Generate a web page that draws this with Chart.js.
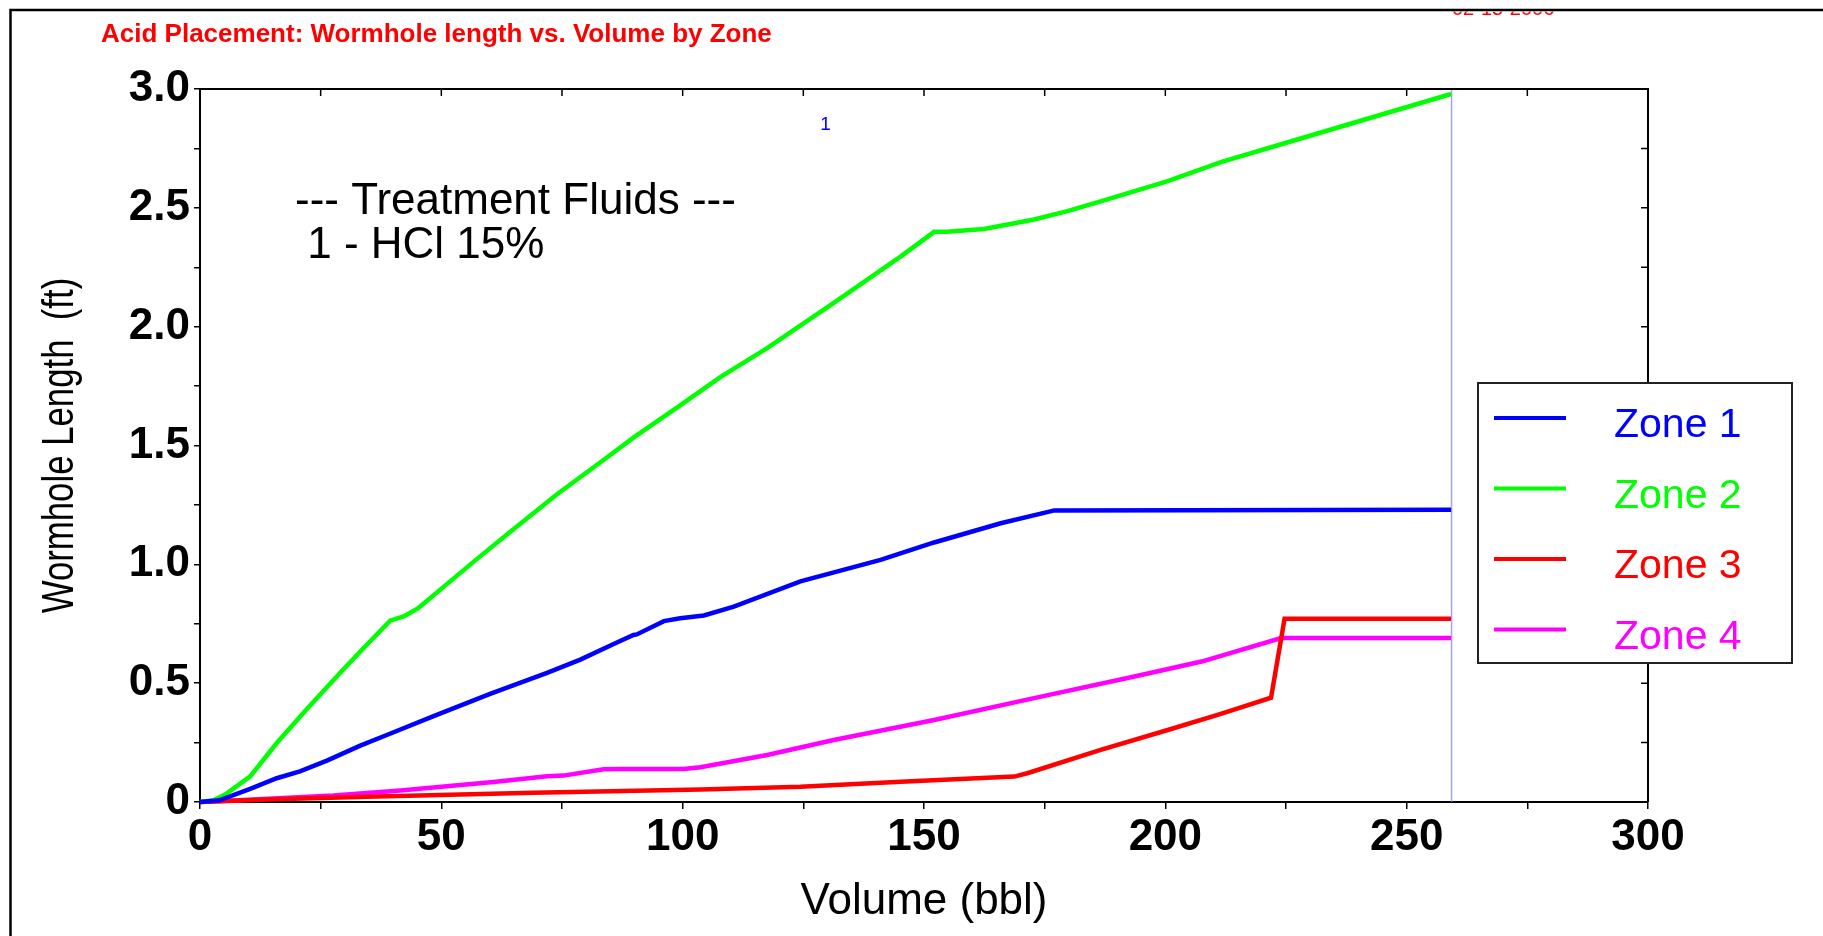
<!DOCTYPE html>
<html>
<head>
<meta charset="utf-8">
<title>Acid Placement: Wormhole length vs. Volume by Zone</title>
<script src="https://cdn.jsdelivr.net/npm/chart.js@4.4.1/dist/chart.umd.min.js"></script>
<style>
  html, body { margin: 0; padding: 0; background: #fff; }
  canvas { display: block; }
</style>
</head>
<body>
<canvas id="grafico" width="1823" height="936"></canvas>
<script>
// Datos: volumen (bbl) y longitud de wormhole (ft) por zona
const volZona1 = [0, 4, 10.4, 15.9, 20.7, 26.3, 33.2, 38.7, 48.4, 60.1, 71.9, 78.8, 85.7, 89.8, 90.5, 96.1, 99.5, 104.4, 110.6, 124.4, 141, 152.1, 165.9, 177, 259.2];
const lenZona1 = [0, 0.007, 0.055, 0.1, 0.129, 0.174, 0.237, 0.282, 0.361, 0.455, 0.543, 0.599, 0.665, 0.703, 0.705, 0.761, 0.773, 0.785, 0.822, 0.928, 1.019, 1.092, 1.173, 1.227, 1.23];

const volZona2 = [0, 2.8, 5.2, 10.4, 15.9, 22.1, 29, 33.9, 39.4, 42.3, 45.3, 50.4, 57.4, 64.3, 73.9, 83.6, 89.8, 98.8, 107.8, 117.5, 131.3, 145.2, 152.1, 154.8, 162.4, 172.8, 179.7, 186.6, 200.5, 211.5, 225.4, 259.2];
const lenZona2 = [0, 0.007, 0.031, 0.108, 0.248, 0.39, 0.543, 0.648, 0.763, 0.782, 0.817, 0.904, 1.023, 1.137, 1.294, 1.439, 1.533, 1.659, 1.788, 1.91, 2.1, 2.296, 2.399, 2.399, 2.411, 2.451, 2.486, 2.527, 2.612, 2.692, 2.776, 2.979];

const volZona3 = [0, 13.8, 34.6, 69.1, 103.7, 124.4, 145.2, 168.7, 171.4, 186.6, 200.5, 211.5, 221.9, 224.7, 259.2];
const lenZona3 = [0, 0.01, 0.022, 0.039, 0.053, 0.064, 0.085, 0.107, 0.121, 0.219, 0.303, 0.371, 0.439, 0.771, 0.771];

const volZona4 = [0, 6.9, 27.6, 41.5, 60.8, 71.9, 75.3, 83.6, 87.1, 100.2, 103.7, 117.5, 131.3, 152.1, 172.8, 193.6, 207.5, 224, 259.2];
const lenZona4 = [0, 0.006, 0.027, 0.048, 0.084, 0.108, 0.111, 0.138, 0.139, 0.139, 0.146, 0.198, 0.261, 0.345, 0.437, 0.528, 0.591, 0.69, 0.69];

const zonas = ['Zone 1', 'Zone 2', 'Zone 3', 'Zone 4'];
const coloresZonas = ['#0000ff', '#00ff00', '#ff0000', '#ff00ff'];

// Fin del bombeo (línea vertical azul clara)
const volumenFinal = 259.3;

// Etiquetas de los ejes
const xEtiquetas = ['0', '50', '100', '150', '200', '250', '300'];
const yEtiquetas = ['0', '0.5', '1.0', '1.5', '2.0', '2.5', '3.0'];

const FUENTE = "'Liberation Sans', Arial, sans-serif";

function puntos(vols, lens) {
    return vols.map((v, i) => ({ x: v, y: lens[i] }));
}

const datasets = [
    [volZona1, lenZona1],
    [volZona2, lenZona2],
    [volZona3, lenZona3],
    [volZona4, lenZona4]
].map(([vols, lens], i) => ({
    label: zonas[i],
    data: puntos(vols, lens),
    borderColor: coloresZonas[i],
    borderWidth: 4.5,
    pointRadius: 0,
    tension: 0,
    clip: 4
}));

datasets.push({
    label: 'fin',
    data: [{ x: volumenFinal, y: 0 }, { x: volumenFinal, y: 3 }],
    borderColor: 'rgba(130, 130, 255, 0.75)',
    borderWidth: 1.5,
    pointRadius: 0,
    tension: 0
});

// Marco, textos, título del eje y (condensado) y leyenda
const decoraciones = {
    id: 'decoraciones',
    afterDraw(chart) {
        const { ctx, chartArea: ca, scales: { x, y } } = chart;
        ctx.save();

        // borde superior y derecho con marcas hacia dentro
        ctx.strokeStyle = '#000';
        ctx.lineWidth = 2;
        ctx.beginPath();
        ctx.moveTo(ca.left, ca.top);
        ctx.lineTo(ca.right, ca.top);
        ctx.lineTo(ca.right, ca.bottom);
        ctx.stroke();
        ctx.lineWidth = 1.5;
        ctx.beginPath();
        x.ticks.forEach(t => {
            const px = x.getPixelForValue(t.value);
            ctx.moveTo(px, ca.top);
            ctx.lineTo(px, ca.top + 7);
        });
        y.ticks.forEach(t => {
            const py = y.getPixelForValue(t.value);
            ctx.moveTo(ca.right, py);
            ctx.lineTo(ca.right - 7, py);
        });
        ctx.stroke();

        // marco exterior
        ctx.lineWidth = 2.5;
        ctx.beginPath();
        ctx.moveTo(10.5, 936);
        ctx.lineTo(10.5, 10);
        ctx.lineTo(1823, 10);
        ctx.stroke();

        // título
        ctx.fillStyle = '#ff0000';
        ctx.font = 'bold 26px ' + FUENTE;
        ctx.textAlign = 'left';
        ctx.textBaseline = 'alphabetic';
        ctx.fillText('Acid Placement: Wormhole length vs. Volume by Zone', 101, 42);

        // fecha cortada por el marco
        ctx.save();
        ctx.beginPath();
        ctx.rect(1400, 11.5, 200, 10);
        ctx.clip();
        ctx.font = '20px ' + FUENTE;
        ctx.fillText('02-15-2006', 1452, 14.5);
        ctx.restore();

        // marcador de fluido
        ctx.fillStyle = '#0000ff';
        ctx.font = '19px ' + FUENTE;
        ctx.textAlign = 'center';
        ctx.fillText('1', x.getPixelForValue(129.6), y.getPixelForValue(2.826));

        // texto de fluidos de tratamiento
        ctx.fillStyle = '#000';
        ctx.font = '44px ' + FUENTE;
        ctx.textAlign = 'left';
        ctx.fillText('--- Treatment Fluids ---', 295, 214);
        ctx.fillText(' 1 - HCl 15%', 295, 258);

        // título del eje y
        ctx.save();
        ctx.translate(61, (ca.top + ca.bottom) / 2);
        ctx.rotate(-Math.PI / 2);
        ctx.scale(0.79, 1);
        ctx.textAlign = 'center';
        ctx.textBaseline = 'middle';
        ctx.fillText('Wormhole Length  (ft)', 0, 0);
        ctx.restore();

        // leyenda
        const caja = { left: 1478, top: 383, right: 1792, bottom: 663 };
        ctx.fillStyle = '#fff';
        ctx.fillRect(caja.left, caja.top, caja.right - caja.left, caja.bottom - caja.top);
        ctx.strokeStyle = '#222';
        ctx.lineWidth = 2;
        ctx.strokeRect(caja.left, caja.top, caja.right - caja.left, caja.bottom - caja.top);
        ctx.font = '41px ' + FUENTE;
        ctx.textBaseline = 'alphabetic';
        zonas.forEach((nombre, i) => {
            const ly = 418 + i * 70.5;
            ctx.strokeStyle = coloresZonas[i];
            ctx.lineWidth = 4;
            ctx.beginPath();
            ctx.moveTo(1494, ly);
            ctx.lineTo(1566, ly);
            ctx.stroke();
            ctx.fillStyle = coloresZonas[i];
            ctx.fillText(nombre, 1614, ly + 19);
        });

        ctx.restore();
    }
};

const grafico = new Chart(document.getElementById('grafico').getContext('2d'), {
    type: 'line',
    data: { datasets: datasets },
    options: {
        responsive: false,
        animation: false,
        layout: { padding: { top: 89, right: 175, left: 0, bottom: 0 } },
        plugins: {
            legend: { display: false },
            title: { display: false },
            tooltip: { enabled: false }
        },
        scales: {
            x: {
                type: 'linear',
                min: 0,
                max: 300,
                afterFit: scale => { scale.height = 134; },
                ticks: {
                    stepSize: 25,
                    autoSkip: false,
                    maxRotation: 0,
                    padding: 2,
                    color: '#000',
                    font: { family: FUENTE, size: 44, weight: 'bold' },
                    callback: v => (v % 50 === 0 ? xEtiquetas[v / 50] : '')
                },
                grid: { drawOnChartArea: false, tickLength: 7, color: '#000', lineWidth: 1.5 },
                border: { color: '#000', width: 2 },
                title: {
                    display: true,
                    text: 'Volume (bbl)',
                    color: '#000',
                    font: { family: FUENTE, size: 44 },
                    padding: { top: 0, bottom: 8 }
                }
            },
            y: {
                min: 0,
                max: 3,
                afterFit: scale => { scale.width = 200; },
                ticks: {
                    stepSize: 0.25,
                    autoSkip: false,
                    padding: 4,
                    color: '#000',
                    font: { family: FUENTE, size: 44, weight: 'bold' },
                    callback: v => {
                        const k = Math.round(v * 2);
                        return Math.abs(v * 2 - k) < 1e-6 ? yEtiquetas[k] : '';
                    }
                },
                grid: { drawOnChartArea: false, tickLength: 6, color: '#000', lineWidth: 1.5 },
                border: { color: '#000', width: 2 }
            }
        }
    },
    plugins: [decoraciones]
});
</script>
</body>
</html>
